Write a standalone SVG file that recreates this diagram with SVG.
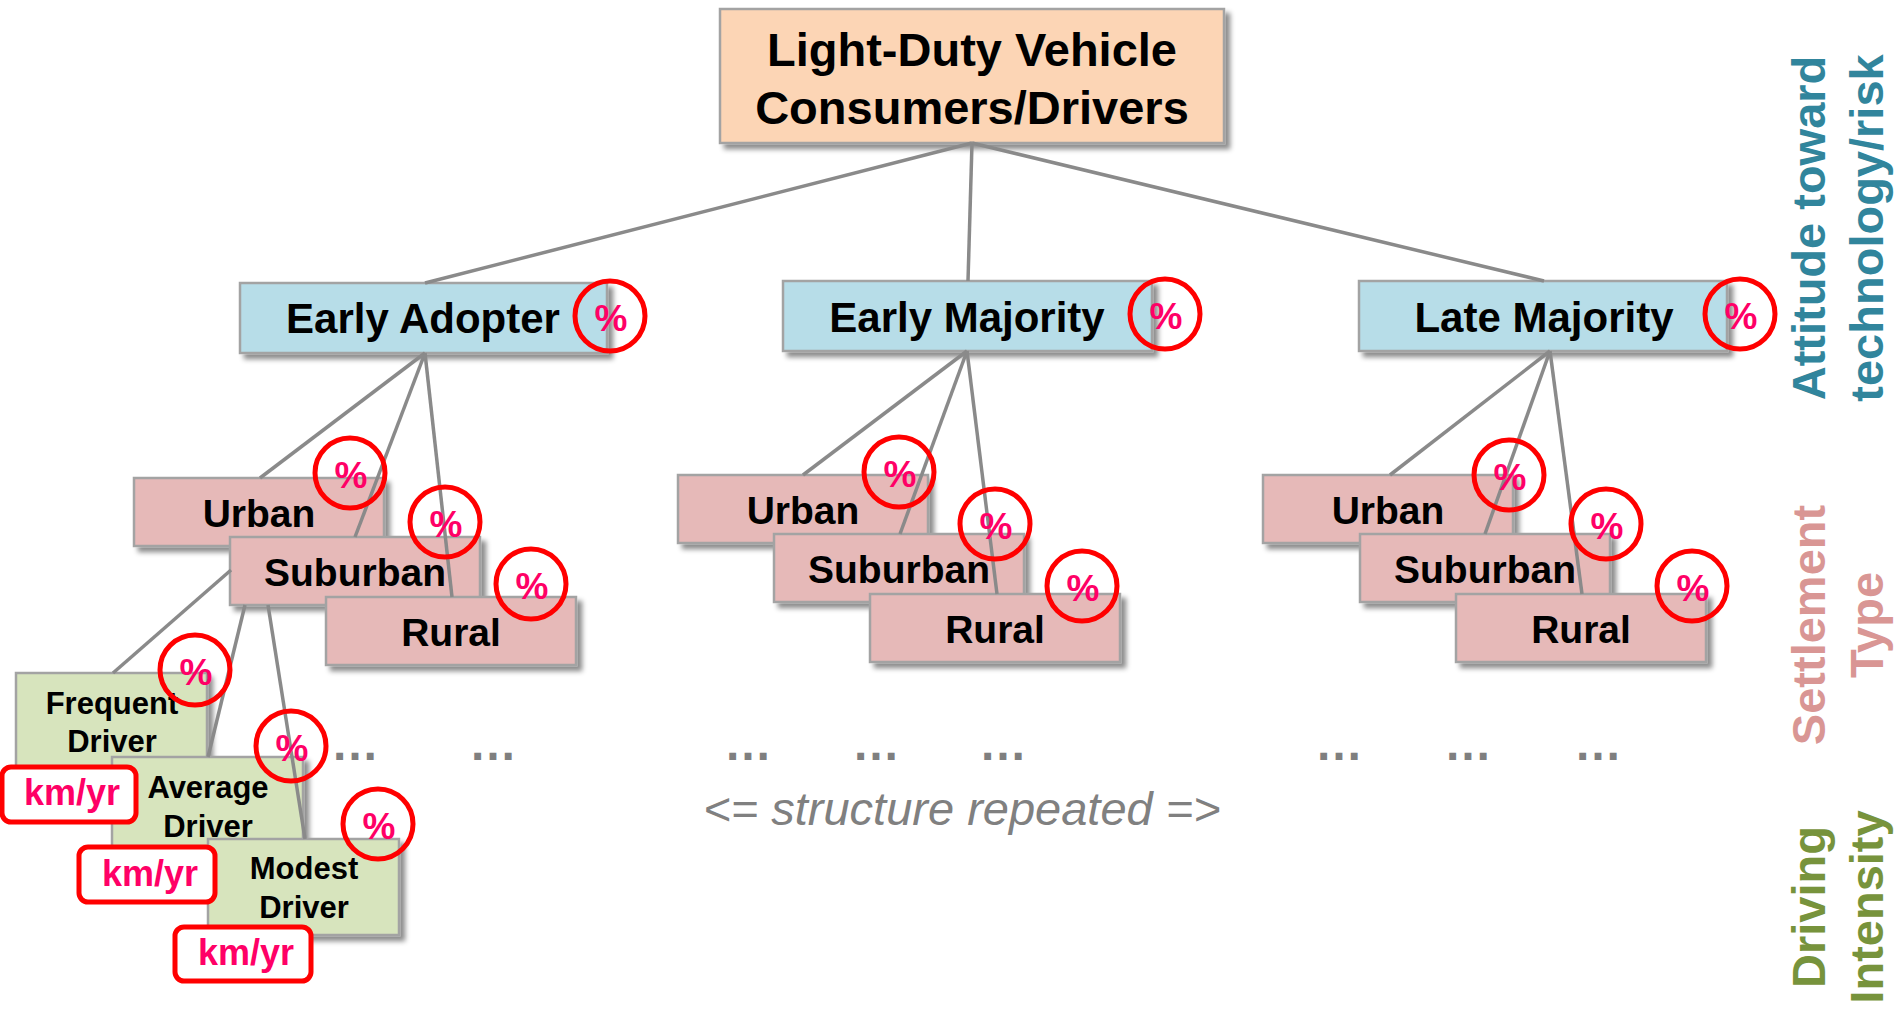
<svg xmlns="http://www.w3.org/2000/svg" width="1895" height="1012" viewBox="0 0 1895 1012">
  <defs>
    <filter id="shadow" x="-10%" y="-20%" width="125%" height="150%">
      <feDropShadow dx="5" dy="5" stdDeviation="2.5" flood-color="#000" flood-opacity="0.45"/>
    </filter>
  </defs>
  <style>
    text { font-family: "Liberation Sans", Arial, sans-serif; font-weight: bold; }
    .box { stroke: #a3a3a3; stroke-width: 2.5; filter: url(#shadow); }
    .root { fill: #fcd5b5; }
    .attitude { fill: #b7dde8; }
    .settle { fill: #e6b9b8; }
    .drive { fill: #d7e4bd; }
    .t-root { font-size: 47px; fill: #000; text-anchor: middle; }
    .t-l2 { font-size: 42px; fill: #000; text-anchor: middle; }
    .t-l3 { font-size: 39px; fill: #000; text-anchor: middle; }
    .t-l4 { font-size: 31px; fill: #000; text-anchor: middle; }
    .edge { stroke: #8a8a8a; stroke-width: 3.5; fill: none; }
    .pct-ring { fill: none; stroke: #ff0000; stroke-width: 5; }
    .pct { font-size: 37px; fill: #ff0066; text-anchor: middle; }
    .km-box { fill: #fff; stroke: #ff0000; stroke-width: 5; }
    .km { font-size: 36px; fill: #ff0066; text-anchor: middle; }
    .dots { font-size: 48px; fill: #7f7f7f; text-anchor: middle; }
    .note { font-size: 47px; font-weight: normal; font-style: italic; fill: #808080; text-anchor: middle; }
    .axis { font-size: 47px; text-anchor: middle; }
  </style>

  <!-- root -->
  <g id="root">
    <rect class="box root" x="720" y="9" width="504" height="134"/>
    <text class="t-root" x="972" y="66">Light-Duty Vehicle</text>
    <text class="t-root" x="972" y="124">Consumers/Drivers</text>
  </g>

  <!-- attitude level -->
  <g id="early-adopter">
    <rect class="box attitude" x="240" y="283" width="367" height="70"/>
    <text class="t-l2" x="423" y="333">Early Adopter</text>
  </g>
  <g id="early-majority">
    <rect class="box attitude" x="783" y="281" width="369" height="70"/>
    <text class="t-l2" x="967" y="332">Early Majority</text>
  </g>
  <g id="late-majority">
    <rect class="box attitude" x="1359" y="281" width="368" height="70"/>
    <text class="t-l2" x="1544" y="332">Late Majority</text>
  </g>

  <!-- settlement level, branch 1 -->
  <g id="ea-urban">
    <rect class="box settle" x="134" y="478" width="250" height="68"/>
    <text class="t-l3" x="259" y="527">Urban</text>
  </g>
  <g id="ea-suburban">
    <rect class="box settle" x="230" y="537" width="250" height="68"/>
    <text class="t-l3" x="355" y="586">Suburban</text>
  </g>
  <g id="ea-rural">
    <rect class="box settle" x="326" y="597" width="250" height="68"/>
    <text class="t-l3" x="451" y="646">Rural</text>
  </g>

  <!-- settlement level, branch 2 -->
  <g id="em-urban">
    <rect class="box settle" x="678" y="475" width="250" height="68"/>
    <text class="t-l3" x="803" y="524">Urban</text>
  </g>
  <g id="em-suburban">
    <rect class="box settle" x="774" y="534" width="250" height="68"/>
    <text class="t-l3" x="899" y="583">Suburban</text>
  </g>
  <g id="em-rural">
    <rect class="box settle" x="870" y="594" width="250" height="68"/>
    <text class="t-l3" x="995" y="643">Rural</text>
  </g>

  <!-- settlement level, branch 3 -->
  <g id="lm-urban">
    <rect class="box settle" x="1263" y="475" width="250" height="68"/>
    <text class="t-l3" x="1388" y="524">Urban</text>
  </g>
  <g id="lm-suburban">
    <rect class="box settle" x="1360" y="534" width="250" height="68"/>
    <text class="t-l3" x="1485" y="583">Suburban</text>
  </g>
  <g id="lm-rural">
    <rect class="box settle" x="1456" y="594" width="250" height="68"/>
    <text class="t-l3" x="1581" y="643">Rural</text>
  </g>

  <!-- driving intensity level -->
  <g id="frequent">
    <rect class="box drive" x="16" y="673" width="191" height="96"/>
    <text class="t-l4" x="112" y="714">Frequent</text>
    <text class="t-l4" x="112" y="752">Driver</text>
  </g>
  <g id="average">
    <rect class="box drive" x="112" y="757" width="191" height="96"/>
    <text class="t-l4" x="208" y="798">Average</text>
    <text class="t-l4" x="208" y="837">Driver</text>
  </g>
  <g id="modest">
    <rect class="box drive" x="208" y="839" width="191" height="96"/>
    <text class="t-l4" x="304" y="879">Modest</text>
    <text class="t-l4" x="304" y="918">Driver</text>
  </g>

  <!-- connectors -->
  <g id="connectors">
    <line class="edge" x1="972" y1="143" x2="425" y2="283"/>
    <line class="edge" x1="972" y1="143" x2="968" y2="281"/>
    <line class="edge" x1="972" y1="143" x2="1544" y2="281"/>

    <line class="edge" x1="425" y1="353" x2="260" y2="478"/>
    <line class="edge" x1="425" y1="353" x2="355" y2="537"/>
    <line class="edge" x1="425" y1="353" x2="452" y2="597"/>

    <line class="edge" x1="967" y1="351" x2="803" y2="475"/>
    <line class="edge" x1="967" y1="351" x2="900" y2="534"/>
    <line class="edge" x1="967" y1="351" x2="997" y2="594"/>

    <line class="edge" x1="1550" y1="351" x2="1390" y2="475"/>
    <line class="edge" x1="1550" y1="351" x2="1485" y2="534"/>
    <line class="edge" x1="1550" y1="351" x2="1582" y2="594"/>

    <line class="edge" x1="231" y1="570" x2="113" y2="673"/>
    <line class="edge" x1="245" y1="605" x2="208" y2="757"/>
    <line class="edge" x1="268" y1="605" x2="305" y2="839"/>
  </g>

  <!-- share markers -->
  <g id="shares">
    <circle class="pct-ring" cx="610" cy="316" r="35"/><text class="pct" x="611" y="331">%</text>
    <circle class="pct-ring" cx="1165" cy="314" r="35"/><text class="pct" x="1166" y="329">%</text>
    <circle class="pct-ring" cx="1740" cy="314" r="35"/><text class="pct" x="1741" y="329">%</text>

    <circle class="pct-ring" cx="350" cy="473" r="35"/><text class="pct" x="351" y="488">%</text>
    <circle class="pct-ring" cx="445" cy="522" r="35"/><text class="pct" x="446" y="537">%</text>
    <circle class="pct-ring" cx="531" cy="584" r="35"/><text class="pct" x="532" y="599">%</text>

    <circle class="pct-ring" cx="899" cy="472" r="35"/><text class="pct" x="900" y="487">%</text>
    <circle class="pct-ring" cx="995" cy="524" r="35"/><text class="pct" x="996" y="539">%</text>
    <circle class="pct-ring" cx="1082" cy="586" r="35"/><text class="pct" x="1083" y="601">%</text>

    <circle class="pct-ring" cx="1509" cy="475" r="35"/><text class="pct" x="1510" y="490">%</text>
    <circle class="pct-ring" cx="1606" cy="524" r="35"/><text class="pct" x="1607" y="539">%</text>
    <circle class="pct-ring" cx="1692" cy="586" r="35"/><text class="pct" x="1693" y="601">%</text>

    <circle class="pct-ring" cx="195" cy="670" r="35"/><text class="pct" x="196" y="685">%</text>
    <circle class="pct-ring" cx="291" cy="746" r="35"/><text class="pct" x="292" y="761">%</text>
    <circle class="pct-ring" cx="378" cy="824" r="35"/><text class="pct" x="379" y="839">%</text>
  </g>

  <!-- annual distance badges -->
  <g id="km-frequent">
    <rect class="km-box" x="2" y="767" width="134" height="55" rx="9"/>
    <text class="km" x="72" y="805">km/yr</text>
  </g>
  <g id="km-average">
    <rect class="km-box" x="79" y="847" width="136" height="55" rx="9"/>
    <text class="km" x="150" y="886">km/yr</text>
  </g>
  <g id="km-modest">
    <rect class="km-box" x="175" y="927" width="136" height="54" rx="9"/>
    <text class="km" x="246" y="965">km/yr</text>
  </g>

  <!-- elided branches -->
  <g id="elided">
    <text class="dots" x="355" y="760">…</text>
    <text class="dots" x="493" y="760">…</text>
    <text class="dots" x="748" y="760">…</text>
    <text class="dots" x="876" y="760">…</text>
    <text class="dots" x="1003" y="760">…</text>
    <text class="dots" x="1339" y="760">…</text>
    <text class="dots" x="1468" y="760">…</text>
    <text class="dots" x="1598" y="760">…</text>
    <text class="note" x="962" y="825">&lt;= structure repeated =&gt;</text>
  </g>

  <!-- level captions -->
  <g id="captions">
    <g transform="translate(1825,228) rotate(-90)">
      <text class="axis" fill="#31859c" x="0" y="0">Attitude toward</text>
      <text class="axis" fill="#31859c" x="0" y="58">technology/risk</text>
    </g>
    <g transform="translate(1825,625) rotate(-90)">
      <text class="axis" fill="#d99694" x="0" y="0">Settlement</text>
      <text class="axis" fill="#d99694" x="0" y="58">Type</text>
    </g>
    <g transform="translate(1825,907) rotate(-90)">
      <text class="axis" fill="#77933c" x="0" y="0">Driving</text>
      <text class="axis" fill="#77933c" x="0" y="58">Intensity</text>
    </g>
  </g>
</svg>
